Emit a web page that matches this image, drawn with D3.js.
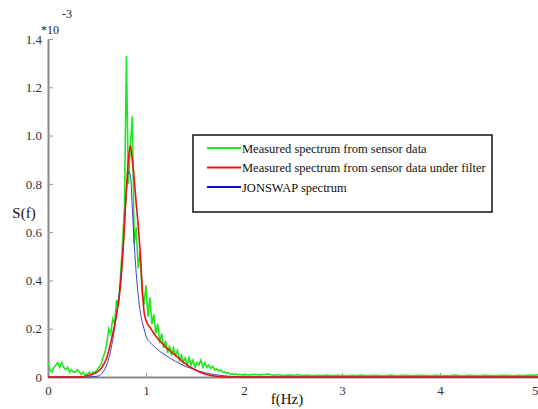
<!DOCTYPE html>
<html>
  <head>
    <script src="https://d3js.org/d3.v7.min.js"></script>
    <style>
      body { margin: 0; background: #fff; }
      svg text { font-family: "Liberation Serif", "DejaVu Serif", serif; }
    </style>
  </head>
  <body>
    <div id="chart"></div>
    <script>
      // Measured spectrum (green): 0..2 Hz at 0.02 steps, then 2.05..5 Hz at 0.05 steps
      const measuredFreq = d3.range(0, 2.001, 0.02).concat(d3.range(2.05, 5.001, 0.05));
      const measured = [
        0.06, 0.03, 0.02, 0.04, 0.05, 0.06, 0.04, 0.06, 0.04, 0.03,
        0.04, 0.02, 0.03, 0.02, 0.02, 0.03, 0.02, 0.01, 0.02, 0.01,
        0.01, 0.02, 0.01, 0.02, 0.02, 0.03, 0.04, 0.05, 0.08, 0.10,
        0.14, 0.20, 0.18, 0.24, 0.22, 0.32, 0.30, 0.42, 0.55, 0.70,
        1.33, 0.80, 0.95, 1.08, 0.55, 0.62, 0.45, 0.52, 0.35, 0.30,
        0.38, 0.25, 0.33, 0.22, 0.26, 0.18, 0.22, 0.14, 0.18, 0.12,
        0.15, 0.10, 0.13, 0.09, 0.12, 0.09, 0.11, 0.07, 0.09, 0.06,
        0.08, 0.05, 0.08, 0.05, 0.07, 0.04, 0.06, 0.05, 0.07, 0.04,
        0.06, 0.04, 0.05, 0.035, 0.045, 0.03, 0.035, 0.025, 0.03, 0.02,
        0.022, 0.015, 0.018, 0.012, 0.014, 0.01, 0.012, 0.009, 0.011, 0.008,
        0.01,
        0.009, 0.011, 0.008, 0.01, 0.012, 0.007, 0.009, 0.006, 0.008, 0.007,
        0.009, 0.006, 0.008, 0.005, 0.007, 0.006, 0.008, 0.005, 0.007, 0.006,
        0.005, 0.007, 0.006, 0.008, 0.005, 0.006, 0.007, 0.005, 0.006, 0.008,
        0.005, 0.006, 0.007, 0.005, 0.006, 0.007, 0.006, 0.005, 0.007, 0.006,
        0.005, 0.006, 0.008, 0.006, 0.005, 0.007, 0.006, 0.005, 0.007, 0.006,
        0.005, 0.006, 0.007, 0.006, 0.005, 0.007, 0.006, 0.008, 0.007, 0.009
      ];

      // Filtered spectrum (red)
      const filteredFreq = [0, 0.3, 0.4, 0.45, 0.5, 0.55, 0.6, 0.65, 0.7, 0.74, 0.77, 0.8, 0.82, 0.84,
        0.86, 0.88, 0.9, 0.92, 0.94, 0.96, 0.98, 1.0, 1.05, 1.1, 1.2, 1.3, 1.4, 1.5, 1.6, 1.7, 1.8, 2.0, 3.0, 4.0, 5.0];
      const filtered = [0, 0, 0.005, 0.01, 0.02, 0.04, 0.08, 0.16, 0.26, 0.38, 0.55, 0.78, 0.9, 0.96,
        0.9, 0.82, 0.72, 0.63, 0.52, 0.38, 0.27, 0.235, 0.2, 0.17, 0.125, 0.09, 0.055, 0.03, 0.012, 0.004, 0, 0, 0, 0, 0];

      // JONSWAP spectrum (blue)
      const jonswapFreq = [0, 0.4, 0.5, 0.55, 0.6, 0.65, 0.7, 0.74, 0.77, 0.8, 0.82, 0.84, 0.86, 0.88,
        0.9, 0.92, 0.95, 0.98, 1.0, 1.05, 1.1, 1.2, 1.3, 1.4, 1.5, 1.6, 1.7, 1.8, 2.0, 3.0, 4.0, 5.0];
      const jonswap = [0, 0, 0.003, 0.015, 0.05, 0.13, 0.26, 0.40, 0.56, 0.76, 0.85, 0.84, 0.70, 0.55,
        0.43, 0.34, 0.25, 0.2, 0.17, 0.14, 0.12, 0.09, 0.065, 0.045, 0.03, 0.018, 0.01, 0.005, 0.001, 0, 0, 0];

      const xTicks = [0, 1, 2, 3, 4, 5];
      const yTicks = [0, 0.2, 0.4, 0.6, 0.8, 1.0, 1.2, 1.4];
      const legendLabels = [
        "Measured spectrum from sensor data",
        "Measured spectrum from sensor data under filter",
        "JONSWAP spectrum"
      ];
      const colors = ["#1ee81e", "#ee1111", "#1010c0"];

      const W = 538, H = 409;
      const margin = { top: 39, right: 0, bottom: 32, left: 48 };
      const width = W - margin.left - margin.right;
      const height = H - margin.top - margin.bottom;

      const root = d3.select("#chart").append("svg")
        .attr("width", W).attr("height", H);
      const svg = root.append("g")
        .attr("transform", `translate(${margin.left}, ${margin.top})`);

      const x = d3.scaleLinear().domain([0, 5]).range([0, width]);
      const y = d3.scaleLinear().domain([0, 1.4]).range([height, 0]);

      // axes (ticks point inward like MATLAB)
      const xAxis = svg.append("g")
        .attr("transform", `translate(0, ${height})`)
        .call(d3.axisBottom(x).tickValues(xTicks).tickFormat(d3.format("d")).tickSizeInner(-4).tickSizeOuter(0).tickPadding(9));
      const yAxis = svg.append("g")
        .call(d3.axisLeft(y).tickValues(yTicks).tickFormat(d => d === 0 ? "0" : d3.format(".1f")(d)).tickSizeInner(-5).tickSizeOuter(0).tickPadding(6));
      [xAxis, yAxis].forEach(a => {
        a.attr("font-family", null).attr("font-size", 13);
        a.select(".domain").attr("stroke", "#888").attr("stroke-width", 2);
        a.selectAll(".tick line").attr("stroke", "#999");
        a.selectAll(".tick text").attr("fill", "#333");
      });
      // last x label would be clipped by the window edge
      xAxis.selectAll(".tick text").filter(d => d === 5).attr("text-anchor", "end");

      const line = (fx) => d3.line()
        .x((d, i) => x(fx[i]))
        .y(d => y(d))
        .curve(d3.curveMonotoneX);

      svg.append("path").datum(measured)
        .attr("fill", "none").attr("stroke", colors[0]).attr("stroke-width", 1.6)
        .attr("d", d3.line().x((d, i) => x(measuredFreq[i])).y(d => y(d)));
      svg.append("path").datum(jonswap)
        .attr("fill", "none").attr("stroke", colors[2]).attr("stroke-width", 1)
        .attr("opacity", 0.8)
        .attr("d", line(jonswapFreq));
      svg.append("path").datum(filtered)
        .attr("fill", "none").attr("stroke", colors[1]).attr("stroke-width", 1.6)
        .attr("d", line(filteredFreq));

      // axis labels
      root.append("text").attr("font-size", 15).attr("fill", "#111")
        .attr("x", 287).attr("y", 404).attr("text-anchor", "middle").text("f(Hz)");
      root.append("text").attr("font-size", 15).attr("fill", "#111")
        .attr("x", 24).attr("y", 218).attr("text-anchor", "middle").text("S(f)");
      // exponent
      root.append("text").attr("font-size", 12).attr("fill", "#222")
        .attr("x", 41).attr("y", 34).text("*10");
      root.append("text").attr("font-size", 12).attr("fill", "#222")
        .attr("x", 62).attr("y", 18).text("-3");

      // legend
      const lg = root.append("g").attr("transform", "translate(193, 135)");
      lg.append("rect").attr("width", 299).attr("height", 77)
        .attr("fill", "#fff").attr("stroke", "#111").attr("stroke-width", 1.5);
      legendLabels.forEach((t, i) => {
        const yy = 13 + i * 19.5;
        lg.append("line").attr("x1", 14).attr("x2", 48).attr("y1", yy).attr("y2", yy)
          .attr("stroke", colors[i]).attr("stroke-width", 2);
        lg.append("text").attr("font-size", 12.5).attr("fill", "#111")
          .attr("x", 49).attr("y", yy + 4.5).text(t);
      });
    </script>
  </body>
</html>
